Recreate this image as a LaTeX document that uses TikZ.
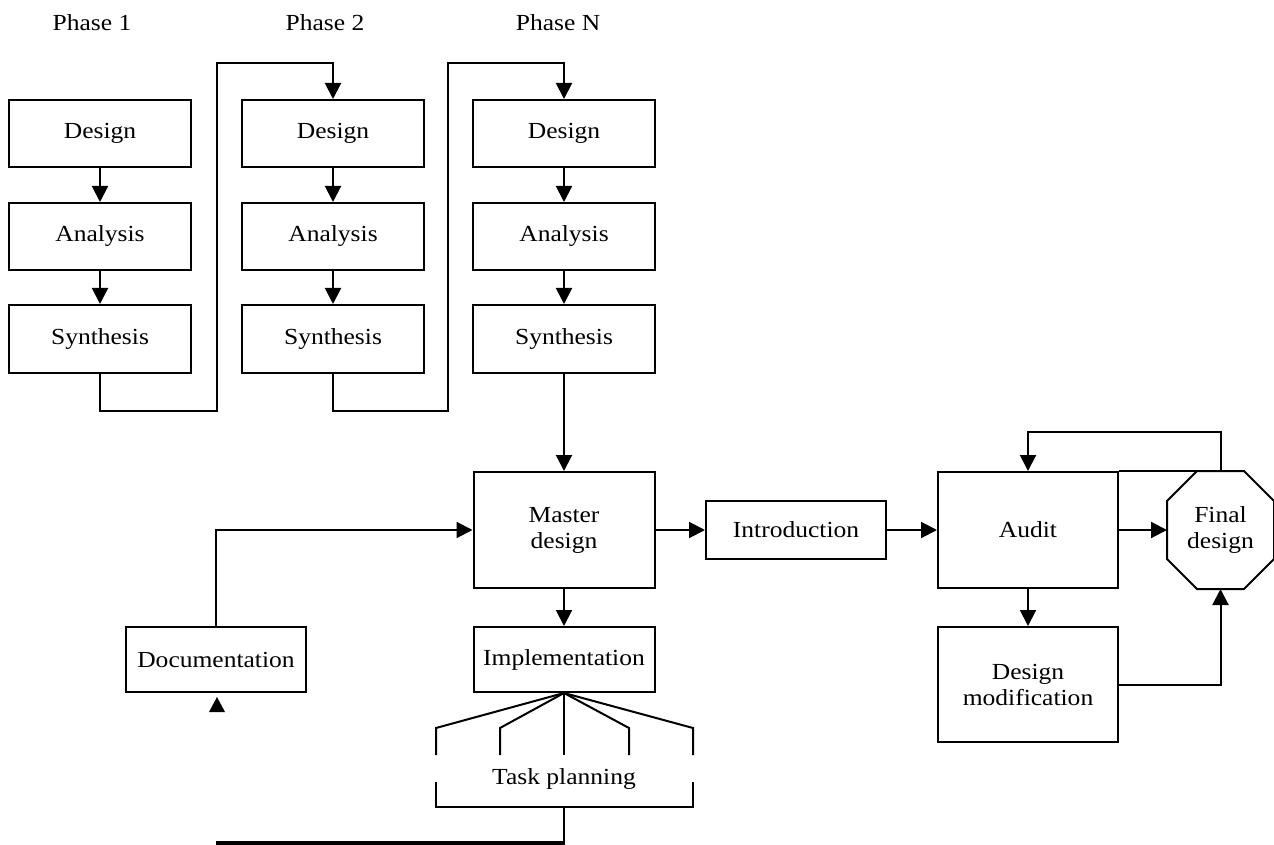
\documentclass[tikz,border=0pt]{standalone}
\usepackage{fontspec}
\setmainfont{Liberation Serif}[FakeStretch=1.11]
\usetikzlibrary{arrows.meta,calc}
\begin{document}
\begin{tikzpicture}[x=0.5pt,y=-0.5pt,
  line width=1pt,
  box/.style={draw,line width=1pt,rectangle,inner sep=2pt,align=center,font=\fontsize{11.5}{13}\selectfont},
  pbox/.style={box,minimum width=91pt},
  lbl/.style={inner sep=1pt,align=center,font=\fontsize{11.5}{13}\selectfont},
  arr/.style={-{Triangle[length=8pt,width=8pt]}},
]
\useasboundingbox (0,0) rectangle (1274,845);

% phase labels
\node[lbl] (p1) at (92,23) {Phase 1};
\node[lbl] (p2) at (325,23) {Phase 2};
\node[lbl] (pn) at (558,23) {Phase N};

% phase columns
\node[pbox,minimum height=33.5pt] (d1) at (100,133.5) {Design};
\node[pbox,minimum height=33.5pt] (a1) at (100,236.5) {Analysis};
\node[pbox,minimum height=34pt]   (s1) at (100,339) {Synthesis};
\node[pbox,minimum height=33.5pt] (d2) at (333,133.5) {Design};
\node[pbox,minimum height=33.5pt] (a2) at (333,236.5) {Analysis};
\node[pbox,minimum height=34pt]   (s2) at (333,339) {Synthesis};
\node[pbox,minimum height=33.5pt] (d3) at (564,133.5) {Design};
\node[pbox,minimum height=33.5pt] (a3) at (564,236.5) {Analysis};
\node[pbox,minimum height=34pt]   (s3) at (564,339) {Synthesis};

\foreach \i in {1,2,3}{
  \draw[arr] (d\i.south) -- (a\i.north);
  \draw[arr] (a\i.south) -- (s\i.north);
}
\draw[arr] (s1.south) -- ++(0,37) -- ++(117,0) -- ++(0,-348) -| (d2.north);
\draw[arr] (s2.south) -- ++(0,37) -- ++(115,0) -- ++(0,-348) -| (d3.north);

% main row
\node[box,minimum width=90.5pt,minimum height=58pt] (master) at (564,530) {Master\\design};
\node[box,minimum width=90pt,minimum height=29pt] (intro) at (796,530) {Introduction};
\node[box,minimum width=90pt,minimum height=58pt] (audit) at (1028,530) {Audit};
\node[lbl,minimum width=52.5pt,minimum height=58pt] (final) at (1220.5,530) {Final\\design};
\draw ($(final.north west)+(30,0)$) -- ($(final.north east)+(-30,0)$)
   -- ($(final.north east)+(0,30)$) -- ($(final.south east)+(0,-30)$)
   -- ($(final.south east)+(-30,0)$) -- ($(final.south west)+(30,0)$)
   -- ($(final.south west)+(0,-30)$) -- ($(final.north west)+(0,30)$) -- cycle;
\draw (audit.north east) -- ($(final.north west)+(30,0)$);

\draw[arr] (s3.south) -- (master.north);
\draw[arr] (master.east) -- (intro.west);
\draw[arr] (intro.east) -- (audit.west);
\draw[arr] (audit.east) -- (final.west);
\draw[arr] (final.north) -- ++(0,-39) -| (audit.north);

\node[box,minimum width=90pt,minimum height=57.5pt] (dmod) at (1028,684.5) {Design\\modification};
\draw[arr] (audit.south) -- (dmod.north);
\draw[arr] (dmod.east) -| (final.south);

% lower left
\node[box,minimum width=90pt,minimum height=32.5pt] (doc) at (216,659.5) {Documentation};
\node[box,minimum width=90.5pt,minimum height=32.5pt] (impl) at (564,659.5) {Implementation};
\draw[arr] (doc.north) |- (master.west);
\draw[arr] (master.south) -- (impl.north);

% dangling arrowhead under documentation
\fill (217,697) -- (225,712) -- (209,712) -- cycle;

% task planning bracket
\node[lbl] (task) at (564,779) {Task planning};
\draw (impl.south) -- (436,728) -- (436,755);
\draw (impl.south) -- (500,728) -- (500,755);
\draw (impl.south) -- (564,755);
\draw (impl.south) -- (629,728) -- (629,755);
\draw (impl.south) -- (693,728) -- (693,755);
\draw (436,782) -- (436,807) -- (693,807) -- (693,782);
\coordinate (tb) at (564,807);
\coordinate (tl) at (565,843);
\draw (tb) -- (564,841);
\draw[line width=2pt] (tl) -- (216,843);
\end{tikzpicture}
\end{document}
